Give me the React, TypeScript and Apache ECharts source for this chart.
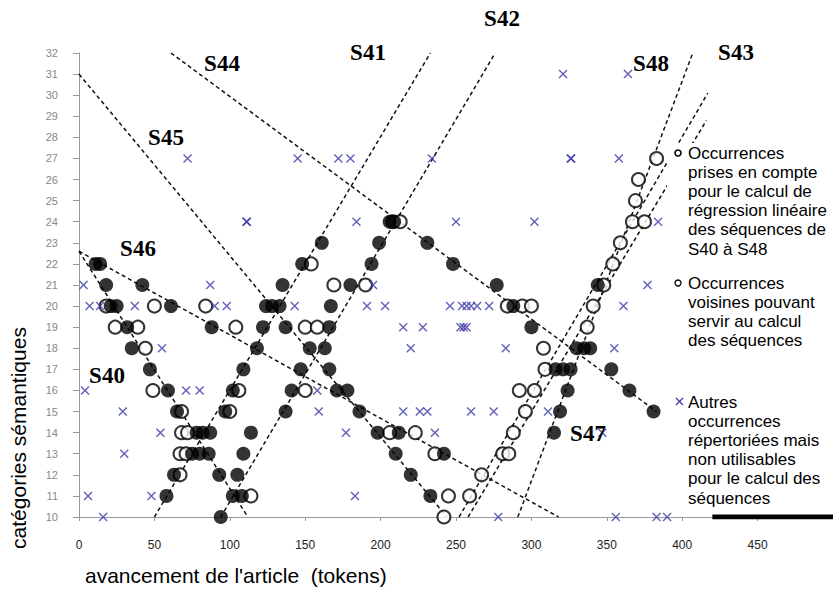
import { useEffect, useRef } from "react";
import * as echarts from "echarts";

// ---- data (x = tokens, y = semantic category) ----
const blackPoints: number[][] = [
  [11, 22], [14, 22], [18, 21], [42, 21], [21, 20], [25, 20], [61, 20], [32, 19], [88, 19], [35, 18],
  [47, 17], [59, 16], [65, 15], [78, 14], [82, 14], [87, 14], [75, 13], [80, 13], [86, 13], [63, 12],
  [58, 11], [94, 10], [93, 12], [102, 11], [108, 11], [114, 14], [109, 13], [105, 12], [97, 15], [102, 16],
  [109, 17], [118, 18], [122, 19], [124, 20], [128, 20], [133, 20], [135, 21], [148, 22], [161, 23],
  [137, 19], [153, 18], [147, 17], [141, 16], [137, 15],
  [206, 24], [209, 24], [199, 23], [194, 22], [180, 21], [167, 20], [166, 19], [163, 18], [166, 17],
  [171, 16], [178, 16], [186, 15], [198, 14], [212, 14], [210, 13], [220, 12], [233, 11],
  [231, 23], [248, 22], [277, 21], [288, 20], [300, 19], [242, 13],
  [316, 17], [321, 17], [326, 17], [324, 16], [319, 15], [315, 14], [353, 17], [365, 16], [381, 15],
  [330, 18], [335, 18], [339, 18], [344, 21],
];

const openPoints: number[][] = [
  [18, 20], [50, 20], [84, 20], [24, 19], [39, 19], [104, 19], [44, 18], [49, 16], [68, 15],
  [68, 14], [72, 14], [67, 13], [71, 13], [67, 12], [106, 16], [100, 15], [114, 11], [150, 19], [158, 19],
  [150, 16], [154, 22],
  [169, 21], [190, 21], [208, 24], [213, 24], [284, 20], [294, 20], [300, 20], [308, 18], [309, 17],
  [292, 16], [302, 16], [296, 15], [288, 14], [281, 13], [285, 13], [267, 12], [259, 11], [245, 11],
  [242, 10], [206, 14], [223, 14], [236, 13],
  [383, 27], [371, 26], [369, 25], [367, 24], [375, 24], [359, 23], [354, 22], [348, 21], [341, 20], [337, 19],
];

const crossPoints: number[][] = [
  [72, 27], [145, 27], [111, 24], [111.4, 24], [3, 21], [87, 21], [7, 20], [14, 20], [37, 20], [90, 20],
  [98, 20], [143, 20], [55, 18], [4, 16], [71, 16], [80, 16], [158, 16], [29, 15], [159, 15], [54, 14],
  [30, 13], [6, 11], [48, 11], [16, 10],
  [172, 27], [180, 27], [234, 27], [184, 24], [250, 24], [302, 24], [195, 21], [191, 20], [203, 20],
  [246, 20], [254, 20], [257, 20], [260, 20], [264, 20], [272, 20], [215, 19], [228, 19], [253, 19],
  [255, 19], [257, 19], [220, 18], [283, 18], [215, 15], [226, 15], [231, 15], [260, 15], [275, 15],
  [311, 15], [177, 14], [236, 14], [183, 11], [278, 10],
  [321, 31], [364, 31], [326, 27], [326.4, 27], [358, 27], [384, 24], [377, 21], [361, 20], [355, 18],
  [347, 14], [356, 10], [383, 10], [390, 10],
];

// regression lines (start / end in data units)
const lineS40: number[][] = [[0, 22.6], [112, 10]];
const lineS41: number[][] = [[50, 10], [233, 32]];
const lineS42: number[][] = [[94, 10], [276, 32]];
const lineS44: number[][] = [[61, 32], [383, 15]];
const lineS45: number[][] = [[0, 31], [244, 10]];
const lineS46: number[][] = [[0, 22.6], [318, 10]];
const lineS43: number[][] = [[291, 10], [407, 32]];
const lineS48a: number[][] = [[252, 10], [417, 30.1]];
const lineS48b: number[][] = [[258, 10], [416, 28.8]];
const blackBar: number[][] = [[420, 10], [500, 10]];

const seqNames = ["S40", "S41", "S42", "S43", "S44", "S45", "S46", "S47", "S48"];

const legendEntries = [
  ["Occurrences", "prises en compte", "pour le calcul de", "régression linéaire", "des séquences de", "S40 à S48"],
  ["Occurrences", "voisines pouvant", "servir au calcul", "des séquences"],
  ["Autres", "occurrences", "répertoriées mais", "non utilisables", "pour le calcul des", "séquences"],
];

const xTitle = "avancement de l'article  (tokens)";
const yTitle = "catégories sémantiques";

export default function App() {
  const ref = useRef<HTMLDivElement>(null);
  useEffect(() => {
    if (!ref.current) return;
    const chart = echarts.init(ref.current, null, { renderer: "svg" });
    const sans = "Liberation Sans, Arial, sans-serif";
    const dashed = { color: "#111", width: 1.5, type: [4, 3] as any };
    const regLines = [lineS40, lineS41, lineS42, lineS44, lineS45, lineS46, lineS43, lineS48a, lineS48b];

    // sequence label positions (pixels)
    const labelPos: Record<string, number[]> = {
      S40: [107, 375], S41: [368, 52], S42: [502, 18], S43: [736, 52], S44: [222, 63],
      S45: [166, 137], S46: [138, 248], S47: [588, 433], S48: [651, 63],
    };
    const labelGraphics = seqNames.map((n) => ({
      type: "text",
      x: labelPos[n][0],
      y: labelPos[n][1],
      z: 110,
      style: {
        text: n, fill: "#000", font: "bold 23px 'Liberation Serif', 'Times New Roman', serif",
        textAlign: "center", textVerticalAlign: "middle",
      },
    }));

    const legendY = [153, 283, 402];
    const legendGraphics: any[] = [
      { type: "rect", shape: { x: 667, y: 143, width: 170, height: 365 }, style: { fill: "#fff" }, z: 100 },
    ];
    legendEntries.forEach((lines, i) => {
      lines.forEach((t, j) => {
        legendGraphics.push({
          type: "text", x: 688, y: legendY[i] + j * 19.2, z: 101,
          style: { text: t, fill: "#000", font: `17px ${sans}`, textVerticalAlign: "middle" },
        });
      });
    });
    legendGraphics.push(
      { type: "circle", shape: { cx: 678, cy: 153, r: 3 }, style: { fill: "#fff", stroke: "#000", lineWidth: 1.6 }, z: 101 },
      { type: "circle", shape: { cx: 678, cy: 283, r: 3 }, style: { fill: "#fff", stroke: "#000", lineWidth: 1.3 }, z: 101 },
      { type: "line", shape: { x1: 676, y1: 398, x2: 683, y2: 405 }, style: { stroke: "#3a3aa8", lineWidth: 1.3 }, z: 101 },
      { type: "line", shape: { x1: 683, y1: 398, x2: 676, y2: 405 }, style: { stroke: "#3a3aa8", lineWidth: 1.3 }, z: 101 },
    );

    const titles = [
      {
        type: "text", x: 85, y: 575, z: 110,
        style: { text: xTitle, fill: "#000", font: `21px ${sans}`, textVerticalAlign: "middle" },
      },
      {
        type: "text", x: 18, y: 438, rotation: Math.PI / 2, z: 110,
        style: { text: yTitle, fill: "#000", font: `21px ${sans}`, textAlign: "center", textVerticalAlign: "middle" },
      },
    ];

    chart.setOption({
      animation: false,
      grid: { left: 79, top: 53, width: 762, height: 464, containLabel: false },
      xAxis: {
        type: "value", min: 0, max: 500, interval: 50,
        axisLine: { show: true, onZero: false, lineStyle: { color: "#9a9a9a", width: 1 } },
        axisTick: { show: true, length: 4, lineStyle: { color: "#9a9a9a" } },
        splitLine: { show: false },
        axisLabel: { margin: 22, fontSize: 12, color: "#222", fontFamily: sans, showMaxLabel: false },
      },
      yAxis: {
        type: "value", min: 10, max: 32, interval: 1,
        axisLine: { show: true, onZero: false, lineStyle: { color: "#9a9a9a", width: 1 } },
        axisTick: { show: true, length: 6, lineStyle: { color: "#9a9a9a" } },
        splitLine: { show: false },
        axisLabel: { margin: 21, fontSize: 11, color: "#888", fontFamily: sans },
      },
      series: [
        ...regLines.map((d) => ({
          type: "line", data: d, showSymbol: false, silent: true, z: 1,
          lineStyle: dashed,
        })),
        {
          type: "line", data: blackBar, showSymbol: false, silent: true, z: 1,
          lineStyle: { color: "#000", width: 5 },
        },
        {
          type: "scatter", data: openPoints, symbol: "circle", symbolSize: 13, z: 3,
          itemStyle: { color: "#fff", borderColor: "#000", borderWidth: 2 },
        },
        {
          type: "scatter", data: blackPoints, symbol: "circle", symbolSize: 14, z: 4,
          itemStyle: { color: "#000" },
        },
        {
          type: "scatter", data: crossPoints, symbol: "path://M0,0L10,10M10,0L0,10", symbolSize: 8, z: 5,
          itemStyle: { color: "none", borderColor: "#3a3aa8", borderWidth: 1.4 },
        },
      ],
      graphic: [...legendGraphics, ...labelGraphics, ...titles],
    });
    return () => chart.dispose();
  }, []);
  return (
    <div
      ref={ref}
      style={{ position: "fixed", left: 0, top: 0, width: 833, height: 589, background: "#fff" }}
    />
  );
}
